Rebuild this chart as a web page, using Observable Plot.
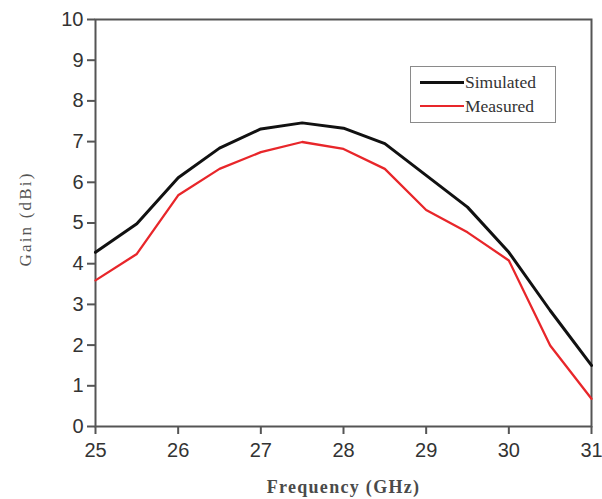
<!DOCTYPE html>
<html>
<head>
<meta charset="utf-8">
<script src="https://cdn.jsdelivr.net/npm/d3@7"></script>
<script src="https://cdn.jsdelivr.net/npm/@observablehq/plot@0.6"></script>
<style>
  body { margin: 0; background: #fff; }
  #wrap { position: relative; width: 602px; height: 499px; }
  #legend {
    position: absolute; left: 410px; top: 66px; width: 146px; height: 57px;
    border: 1px solid #8a8a8a; box-sizing: border-box; background: #fff;
    font-family: "Liberation Serif", "DejaVu Serif", serif; font-size: 17.5px; color: #333;
  }
  .row { position: absolute; left: 9px; display: flex; align-items: center; line-height: 20px; }
  .sw { width: 44px; height: 0; margin-right: 1px; }
</style>
</head>
<body>
<div id="wrap"></div>
<script>
const frequency = [25, 25.5, 26, 26.5, 27, 27.5, 28, 28.5, 29, 29.5, 30, 30.5, 31];
const simulated = [4.28, 4.98, 6.11, 6.84, 7.31, 7.46, 7.33, 6.95, 6.17, 5.39, 4.28, 2.85, 1.5];
const measured  = [3.59, 4.24, 5.68, 6.33, 6.74, 6.99, 6.82, 6.33, 5.32, 4.77, 4.08, 1.99, 0.68];
const xTicks = [25, 26, 27, 28, 29, 30, 31];
const yTicks = [0, 1, 2, 3, 4, 5, 6, 7, 8, 9, 10];
const seriesNames = ["Simulated", "Measured"];
const seriesColors = ["#111111", "#e8262a"];
const xTitle = "Frequency (GHz)";
const yTitle = "Gain (dBi)";

const rows = [];
frequency.forEach((f, i) => {
  rows.push({f, g: simulated[i], s: seriesNames[0]});
  rows.push({f, g: measured[i], s: seriesNames[1]});
});

const chart = Plot.plot({
  width: 602,
  height: 499,
  marginLeft: 95,
  marginRight: 11,
  marginTop: 19,
  marginBottom: 73,
  style: {fontFamily: "'Liberation Sans', Arial, sans-serif", fontSize: "20px", color: "#333", background: "#fff"},
  x: {domain: [25, 31], ticks: xTicks, label: null},
  y: {domain: [0, 10], ticks: yTicks, label: null},
  color: {domain: seriesNames, range: seriesColors},
  marks: [
    Plot.frame({stroke: "#555", strokeWidth: 2}),
    Plot.axisX({ticks: xTicks, tickFormat: d3.format("d"), tickSize: 8, tickPadding: 8, stroke: "#555", strokeWidth: 2, label: null}),
    Plot.axisY({ticks: yTicks, tickFormat: d3.format("d"), tickSize: 8, tickPadding: 4, stroke: "#555", strokeWidth: 2, label: null}),
    Plot.line(rows.filter(d => d.s === "Measured"), {x: "f", y: "g", stroke: "s", strokeWidth: 2.3}),
    Plot.line(rows.filter(d => d.s === "Simulated"), {x: "f", y: "g", stroke: "s", strokeWidth: 3}),
    Plot.text([yTitle], {frameAnchor: "left", textAnchor: "middle", rotate: -90, dx: -70, dy: -4, fontSize: 17,
      fontFamily: "'Liberation Serif', 'DejaVu Serif', serif", fill: "#555"}),
    Plot.text([xTitle], {frameAnchor: "bottom", dy: 61, fontSize: 18, lineAnchor: "middle",
      fontFamily: "'Liberation Serif', 'DejaVu Serif', serif", fontWeight: "bold", fill: "#4a4a4a"})
  ]
});

d3.select(chart).selectAll("text").each(function() {
  const s = this.textContent;
  if (s === yTitle) this.setAttribute("letter-spacing", "2.2");
  if (s === xTitle) this.setAttribute("letter-spacing", "1.3");
});

const wrap = document.getElementById("wrap");
wrap.appendChild(chart);

const legend = document.createElement("div");
legend.id = "legend";
seriesNames.forEach((name, i) => {
  const row = document.createElement("div");
  row.className = "row";
  row.style.top = (i === 0 ? 5 : 29) + "px";
  const sw = document.createElement("div");
  sw.className = "sw";
  sw.style.borderTop = (i === 0 ? 3 : 2) + "px solid " + seriesColors[i];
  const t = document.createElement("span");
  t.textContent = name;
  row.appendChild(sw);
  row.appendChild(t);
  legend.appendChild(row);
});
wrap.appendChild(legend);
</script>
</body>
</html>
